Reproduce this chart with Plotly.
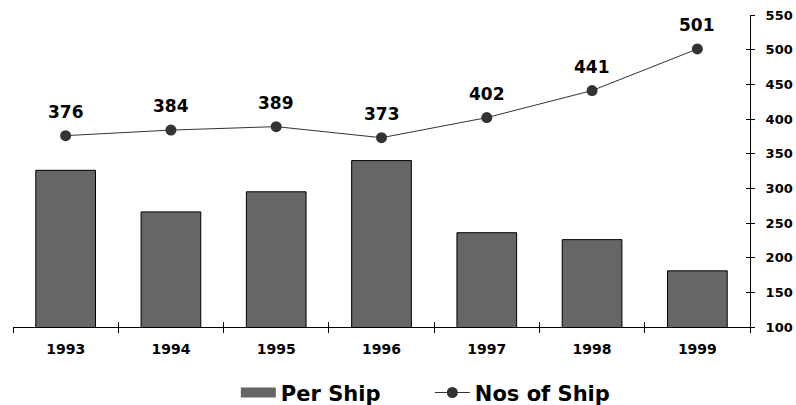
import plotly.graph_objects as go

years = ["1993", "1994", "1995", "1996", "1997", "1998", "1999"]
per_ship = [326, 266, 295, 340, 236, 226, 181]
nos_of_ship = [376, 384, 389, 373, 402, 441, 501]
y_ticks = [100, 150, 200, 250, 300, 350, 400, 450, 500, 550]

FONT = "DejaVu Sans, Arial, sans-serif"
W, H = 796, 405
L, R, T, B = 13, 46, 15, 78
BAR_COLOR = "#666666"
LINE_COLOR = "#333333"

fig = go.Figure()

fig.add_trace(go.Bar(
    x=years, y=per_ship, name="Per Ship", showlegend=False,
    marker=dict(color=BAR_COLOR, line=dict(color="#000000", width=1)),
    width=0.567, xaxis="x", yaxis="y",
))

# legend key for the bars: a wide swatch instead of the small default square
fig.add_trace(go.Scatter(
    x=[None], y=[None], name="Per Ship", mode="lines",
    line=dict(color=BAR_COLOR, width=12), xaxis="x", yaxis="y",
))

fig.add_trace(go.Scatter(
    x=years, y=nos_of_ship, name="Nos of Ship", mode="lines+markers",
    line=dict(color=LINE_COLOR, width=1),
    marker=dict(color=LINE_COLOR, size=11, symbol="circle"),
    xaxis="x2", yaxis="y2",
))

# value labels above the line markers (category axes take the serial index)
for i, v in enumerate(nos_of_ship):
    fig.add_annotation(
        x=i, y=v, xref="x", yref="y", text=str(v), showarrow=False,
        yshift=24, font=dict(family=FONT, size=17, color="#000000", weight="bold"),
    )

yr_range = [min(y_ticks), max(y_ticks)]

fig.update_layout(
    width=W, height=H,
    margin=dict(l=L, r=R, t=T, b=B),
    paper_bgcolor="white", plot_bgcolor="white",
    font=dict(family=FONT, color="#000000"),
    showlegend=True,
    legend=dict(
        orientation="h", xref="container", yref="container",
        x=0.540, y=0.03, xanchor="center", yanchor="middle",
        font=dict(family=FONT, size=21, weight="bold"),
        itemwidth=35, traceorder="normal",
        entrywidth=144, entrywidthmode="pixels",
    ),
    xaxis=dict(
        type="category", categoryorder="array", categoryarray=years,
        range=[-0.5, 6.5], tickson="boundaries", automargin=False,
        showline=True, linecolor="#000000", linewidth=1,
        ticks="outside", ticklen=5, tickcolor="#000000",
        ticklabelstandoff=9,
        tickfont=dict(family=FONT, size=14, weight="bold"),
        showgrid=False, zeroline=False, fixedrange=True,
    ),
    xaxis2=dict(
        type="category", categoryorder="array", categoryarray=years,
        range=[-0.5, 6.5], tickson="boundaries", overlaying="x", anchor="y2",
        side="bottom", showline=False, ticks="inside", ticklen=5,
        tickcolor="#000000", showticklabels=False, showgrid=False,
        zeroline=False, automargin=False,
    ),
    yaxis=dict(
        range=yr_range, side="right", tickvals=y_ticks, automargin=False,
        ticks="inside", ticklen=4, tickcolor="#000000",
        showticklabels=False, showline=False, showgrid=False, zeroline=False,
    ),
    yaxis2=dict(
        range=yr_range, side="right", overlaying="y", anchor="x2",
        tickvals=y_ticks, ticks="outside", ticklen=4, tickcolor="#000000",
        ticklabelstandoff=8, automargin=False,
        showline=True, linecolor="#000000", linewidth=1,
        tickfont=dict(family=FONT, size=13, weight="bold"),
        showgrid=False, zeroline=False,
    ),
)

fig.write_html("out.html")
